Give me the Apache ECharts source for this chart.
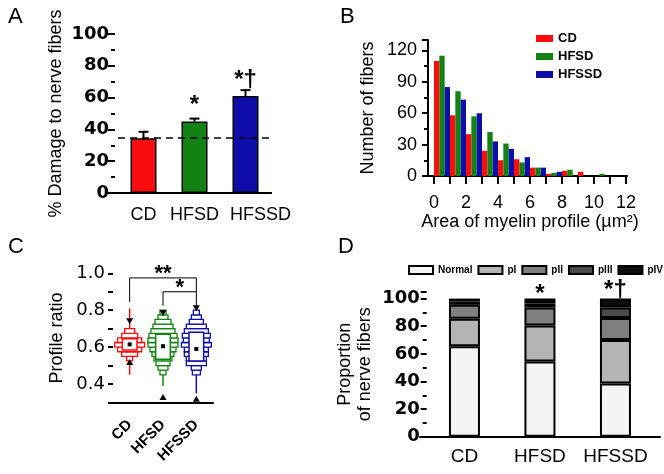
<!DOCTYPE html>
<html><head><meta charset="utf-8">
<script src="https://cdn.jsdelivr.net/npm/echarts@6/dist/echarts.min.js"></script>
<style>html,body{margin:0;padding:0;background:#fff}#c{width:664px;height:474px}</style>
</head><body><div id="c"></div>
<script>
// ---------- DATA ----------
const groups = ['CD', 'HFSD', 'HFSSD'];
// Panel A: % damage to nerve fibers
const damageMean = [34.5, 45, 61];
const damageUpper = [38.5, 46.8, 64.7];
const damageBaseline = 34.5;
const damageSigText = ['', '*', '*†'];
const damageSigY = [0, 55, 71];
// Panel B: histogram of myelin profile area (bins of 1 µm²)
const areaBins = ['0-1','1-2','2-3','3-4','4-5','5-6','6-7','7-8','8-9','9-10','10-11','11-12'];
const cdCounts    = [110, 58, 40, 24, 15, 16, 8, 2, 5, 4, 0, 0];
const hfsdCounts  = [115, 81, 57, 42, 31, 13, 8, 3, 6, 0, 2, 0];
const hfssdCounts = [ 85, 73, 60, 33, 26, 18, 8, 4, 0, 0, 0, 0];
// Panel C: profile ratio distributions
const ratioBinWidth = 0.025;
const ratioBinStart = [0.525, 0.45, 0.45];
const cdRatioBins    = [18, 48, 72, 90, 72, 48, 30];
const hfsdRatioBins  = [18, 30, 42, 54, 66, 78, 90, 90, 84, 72, 60, 48, 30, 18];
const hfssdRatioBins = [24, 30, 60, 60, 72, 72, 90, 78, 84, 72, 60, 42, 30, 18];
const ratioWhiskerLo = [0.45, 0.39, 0.35];
const ratioWhiskerHi = [0.81, 0.80, 0.80];
const ratioQ1 = [0.585, 0.535, 0.525];
const ratioQ3 = [0.645, 0.67, 0.68];
const ratioMean = [0.615, 0.605, 0.59];
const ratioP1 = [0.52, 0.33, 0.32];
const ratioP99 = [0.74, 0.785, 0.81];
// brackets: [from, to, top, dropFrom, dropTo]
const brackets = [[0, 2, 0.975, 0.845, 0.82], [1, 2, 0.90, 0.825, 0.90]];
const bracketText = ['**', '*'];
// Panel D: proportion of nerve fibers
const stageNames = ['Normal', 'pI', 'pII', 'pIII', 'pIV'];
const normalPct = [65.5, 54.5, 38.5];
const pIPct     = [20, 26, 31.5];
const pIIPct    = [10, 13, 16];
const pIIIPct   = [2.5, 3, 7.5];
const pIVPct    = [2, 3.5, 6.5];
const propSigText = ['', '*', '*†'];
const propSigY = [0, 103, 106];

// ---------- STYLE ----------
const F = 'Liberation Sans, Arial, sans-serif';
const FB = 'DejaVu Sans, sans-serif';
const groupColors = ['#fb0d0d', '#128312', '#0d0da8'];
const stageColors = ['#f4f4f4', '#b4b4b4', '#7f7f7f', '#4a4a4a', '#0d0d0d'];
const AX = {lineStyle: {color: '#000', width: 2}};

const chart = echarts.init(document.getElementById('c'));

function extAxis(gi) { return {type: 'value', gridIndex: gi, position: 'bottom', min: 0, max: 1, axisLine: AX, axisTick: {show: false}, axisLabel: {show: false}, splitLine: {show: false}}; }
function hiddenY(gi) { return {type: 'value', gridIndex: gi, min: 0, max: 1, show: false}; }

function textEl(x, y, t, size) {
  return {type: 'text', x: x, y: y, style: {text: t, fontSize: size, fontWeight: 'bold', fill: '#000', fontFamily: F, align: 'center', verticalAlign: 'middle'}};
}

const binsData = [cdRatioBins, hfsdRatioBins, hfssdRatioBins].map((arr, g) =>
  arr.map((w, i) => [g, ratioBinStart[g] + i * ratioBinWidth, ratioBinStart[g] + (i + 1) * ratioBinWidth, w]));

const series = [];
// A bars
series.push({
  type: 'bar', xAxisIndex: 0, yAxisIndex: 0, barWidth: 26,
  data: damageMean.map((v, i) => ({value: v, itemStyle: {color: groupColors[i]}})),
  itemStyle: {borderColor: '#000', borderWidth: 1.5},
  markLine: {silent: true, symbol: 'none', label: {show: false},
    lineStyle: {color: '#000', type: [7, 5], width: 1.5}, data: [{yAxis: damageBaseline}]}
});
// A error bars
series.push({
  type: 'custom', xAxisIndex: 0, yAxisIndex: 0, z: 3,
  data: damageMean.map((m, i) => [i, m, damageUpper[i]]),
  renderItem: function (p, api) {
    const a = api.coord([api.value(0), api.value(1)]);
    const b = api.coord([api.value(0), api.value(2)]);
    return {type: 'group', children: [
      {type: 'line', shape: {x1: a[0], y1: a[1], x2: b[0], y2: b[1]}, style: {stroke: '#000', lineWidth: 2}},
      {type: 'line', shape: {x1: b[0] - 5, y1: b[1], x2: b[0] + 5, y2: b[1]}, style: {stroke: '#000', lineWidth: 2}}
    ]};
  }
});
// A significance
series.push({
  type: 'custom', xAxisIndex: 0, yAxisIndex: 0, z: 4,
  data: damageSigText.map((t, i) => [i, damageSigY[i]]),
  renderItem: function (p, api) {
    const t = damageSigText[p.dataIndex];
    if (!t) return null;
    const c = api.coord([api.value(0), api.value(1)]);
    return textEl(c[0], c[1], t, 24);
  }
});
// B histogram
[cdCounts, hfsdCounts, hfssdCounts].forEach((arr, i) => {
  series.push({type: 'bar', name: groups[i], xAxisIndex: 1, yAxisIndex: 1, data: arr,
    barGap: '0%', barCategoryGap: '0%', itemStyle: {color: groupColors[i]}});
});
// C whiskers
series.push({
  type: 'custom', xAxisIndex: 3, yAxisIndex: 2,
  data: groups.map((g, i) => [i, ratioWhiskerLo[i], ratioWhiskerHi[i]]),
  renderItem: function (p, api) {
    const a = api.coord([api.value(0), api.value(1)]);
    const b = api.coord([api.value(0), api.value(2)]);
    return {type: 'line', shape: {x1: a[0], y1: a[1], x2: b[0], y2: b[1]}, style: {stroke: groupColors[p.dataIndex], lineWidth: 1.5}};
  }
});
// C histogram boxes
binsData.forEach((d, g) => {
  series.push({
    type: 'custom', xAxisIndex: 3, yAxisIndex: 2, data: d,
    renderItem: function (p, api) {
      const bw = api.size([1, 0])[0];
      const top = api.coord([api.value(0), api.value(2)]);
      const bot = api.coord([api.value(0), api.value(1)]);
      const half = bw * api.value(3) / 200;
      return {type: 'rect', shape: {x: top[0] - half, y: top[1], width: 2 * half, height: bot[1] - top[1]},
        style: {fill: '#fff', stroke: groupColors[g], lineWidth: 1.3}};
    }
  });
});
// C IQR box, mean, percentiles
series.push({
  type: 'custom', xAxisIndex: 3, yAxisIndex: 2,
  data: groups.map((g, i) => [i, ratioQ1[i], ratioQ3[i], ratioMean[i], ratioP1[i], ratioP99[i]]),
  renderItem: function (p, api) {
    const x = api.value(0);
    const bw = api.size([1, 0])[0];
    const half = bw * 0.22;
    const q3 = api.coord([x, api.value(2)]), q1 = api.coord([x, api.value(1)]);
    const m = api.coord([x, api.value(3)]);
    const lo = api.coord([x, api.value(4)]), hi = api.coord([x, api.value(5)]);
    const col = groupColors[p.dataIndex];
    return {type: 'group', children: [
      {type: 'rect', shape: {x: q3[0] - half, y: q3[1], width: 2 * half, height: q1[1] - q3[1]}, style: {fill: '#fff', stroke: col, lineWidth: 1.5}},
      {type: 'rect', shape: {x: m[0] - 2, y: m[1] - 2, width: 4, height: 4}, style: {fill: '#000'}},
      {type: 'polygon', shape: {points: [[hi[0] - 3.5, hi[1] - 3], [hi[0] + 3.5, hi[1] - 3], [hi[0], hi[1] + 3]]}, style: {fill: '#000'}},
      {type: 'polygon', shape: {points: [[lo[0] - 3.5, lo[1] + 3], [lo[0] + 3.5, lo[1] + 3], [lo[0], lo[1] - 3]]}, style: {fill: '#000'}}
    ]};
  }
});
// C brackets
series.push({
  type: 'custom', xAxisIndex: 3, yAxisIndex: 2,
  data: brackets,
  renderItem: function (p, api) {
    const a1 = api.coord([api.value(0), api.value(3)]);
    const a2 = api.coord([api.value(0), api.value(2)]);
    const b2 = api.coord([api.value(1), api.value(2)]);
    const b1 = api.coord([api.value(1), api.value(4)]);
    const mx = (a2[0] + b2[0]) / 2;
    const tx = p.dataIndex === 0 ? api.coord([1, 0.5])[0] : mx;
    return {type: 'group', children: [
      {type: 'polyline', shape: {points: [a1, a2, b2, b1]}, style: {stroke: '#000', lineWidth: 1, fill: null}},
      textEl(tx, a2[1] - 4, bracketText[p.dataIndex], 22)
    ]};
  }
});
// D stacked bars
[normalPct, pIPct, pIIPct, pIIIPct, pIVPct].forEach((arr, i) => {
  series.push({type: 'bar', name: stageNames[i], stack: 'prop', xAxisIndex: 4, yAxisIndex: 3, data: arr, barWidth: 31,
    itemStyle: {color: stageColors[i], borderColor: '#000', borderWidth: 2}});
});
// D significance
series.push({
  type: 'custom', xAxisIndex: 4, yAxisIndex: 3, z: 4,
  data: propSigText.map((t, i) => [i, propSigY[i]]),
  renderItem: function (p, api) {
    const t = propSigText[p.dataIndex];
    if (!t) return null;
    const c = api.coord([api.value(0), api.value(1)]);
    return textEl(c[0], c[1], t, 24);
  }
});

const option = {
  animation: false,
  backgroundColor: '#fff',
  textStyle: {fontFamily: F, color: '#000'},
  grid: [
    {left: 118, top: 34, width: 153, height: 159},
    {left: 434, top: 40, width: 192, height: 136},
    {left: 113, top: 273.3, width: 100, height: 129.2},
    {left: 426.7, top: 291.7, width: 226.5, height: 145},
    {left: 107, top: 34, width: 164, height: 159},
    {left: 428, top: 40, width: 199, height: 136},
    {left: 420, top: 291.7, width: 240, height: 145}
  ],
  legend: [
    {data: groups, orient: 'vertical', left: 531, top: 27, itemWidth: 17, itemHeight: 7, itemGap: 5, icon: 'rect',
      textStyle: {fontFamily: F, fontWeight: 'bold', fontSize: 13, color: '#000'}, selectedMode: false},
    {data: stageNames, orient: 'horizontal', left: 408, top: 265, width: 256, itemWidth: 24, itemHeight: 8, itemGap: 5, icon: 'rect', padding: 0,
      textStyle: {fontFamily: F, fontWeight: 'bold', fontSize: 10, color: '#000'}, selectedMode: false}
  ],
  xAxis: [
    {type: 'category', gridIndex: 0, data: groups, axisLine: AX, axisTick: {length: 7, lineStyle: {width: 2}},
      axisLabel: {interval: 0, fontSize: 18, color: '#000', margin: 13, fontFamily: F,
        formatter: (v, i) => (i === 2 ? '{s|' + v + '}' : v),
        rich: {s: {fontSize: 18, fontFamily: F, color: '#000', padding: [0, 0, 0, 30]}}}},
    {type: 'category', gridIndex: 1, position: 'top', data: areaBins, show: false},
    {type: 'value', gridIndex: 1, position: 'bottom', min: 0, max: 12, interval: 2, axisLine: AX,
      axisTick: {length: 8, lineStyle: {width: 2}}, minorTick: {show: true, splitNumber: 2, length: 8, lineStyle: {width: 2, color: '#000'}},
      splitLine: {show: false}, axisLabel: {fontSize: 18, color: '#000', margin: 18, fontFamily: F},
      name: 'Area of myelin profile (µm²)', nameLocation: 'middle', nameGap: 36, nameTextStyle: {fontSize: 18, color: '#000', fontFamily: F}},
    {type: 'category', gridIndex: 2, data: groups, axisLine: AX, axisTick: {alignWithLabel: true, length: 7, lineStyle: {width: 2}},
      axisLabel: {interval: 0, fontSize: 15, fontWeight: 'bold', rotate: 45, color: '#000', margin: 20, fontFamily: F}},
    {type: 'category', gridIndex: 3, data: groups, axisLine: AX, axisTick: {show: false},
      axisLabel: {interval: 0, fontSize: 19, color: '#000', margin: 11, fontFamily: F}},
    extAxis(4), extAxis(5), extAxis(6)
  ],
  yAxis: [
    {type: 'value', gridIndex: 0, min: 0, max: 100, interval: 20, offset: 3, axisLine: AX,
      axisTick: {show: true, length: 7, lineStyle: {width: 2}}, minorTick: {show: true, splitNumber: 2, length: 4, lineStyle: {width: 2, color: '#000'}},
      splitLine: {show: false}, axisLabel: {fontSize: 18, fontWeight: 'bold', color: '#000', margin: 6, fontFamily: FB},
      name: '% Damage to nerve fibers', nameLocation: 'middle', nameGap: 50, nameTextStyle: {fontSize: 18, color: '#000', fontFamily: F}},
    {type: 'value', gridIndex: 1, min: 0, max: 130, interval: 30, offset: 6, axisLine: {onZero: false, lineStyle: {color: '#000', width: 2}},
      axisTick: {show: true, length: 6, lineStyle: {width: 2}}, minorTick: {show: true, splitNumber: 2, length: 4, lineStyle: {width: 2, color: '#000'}},
      splitLine: {show: false}, axisLabel: {fontSize: 18, color: '#000', margin: 11, fontFamily: F, formatter: v => (v % 30 === 0 ? v : '')},
      name: 'Number of fibers', nameLocation: 'middle', nameGap: 51, nameTextStyle: {fontSize: 18, color: '#000', fontFamily: F}},
    {type: 'value', gridIndex: 2, min: 0.3, max: 1.0, interval: 0.1, axisLine: AX,
      axisTick: {show: true, length: 5, lineStyle: {width: 2}}, splitLine: {show: false},
      axisLabel: {fontSize: 18, color: '#000', margin: 8, fontFamily: FB,
        formatter: v => (Math.round(v * 10) % 2 === 0 ? v.toFixed(1) : '')},
      name: 'Profile ratio', nameLocation: 'middle', nameGap: 47, nameTextStyle: {fontSize: 18, color: '#000', fontFamily: F}},
    {type: 'value', gridIndex: 3, min: 0, max: 105, interval: 20, axisLine: AX,
      axisTick: {show: true, length: 6, lineStyle: {width: 2}}, minorTick: {show: true, splitNumber: 2, length: 4, lineStyle: {width: 2, color: '#000'}},
      splitLine: {show: false}, axisLabel: {fontSize: 18, fontWeight: 'bold', color: '#000', margin: 7, fontFamily: FB, formatter: v => (v % 20 === 0 ? v : '')},
      name: 'Proportion\nof nerve fibers', nameLocation: 'middle', nameGap: 52, nameTextStyle: {fontSize: 18, lineHeight: 20, color: '#000', fontFamily: F}},
    hiddenY(4), hiddenY(5), hiddenY(6)
  ],
  graphic: [
    {type: 'text', left: 8, top: 6, style: {text: 'A', fontSize: 22, fontFamily: F, fill: '#000'}},
    {type: 'text', left: 340, top: 6, style: {text: 'B', fontSize: 22, fontFamily: F, fill: '#000'}},
    {type: 'text', left: 8, top: 236, style: {text: 'C', fontSize: 22, fontFamily: F, fill: '#000'}},
    {type: 'text', left: 338, top: 236, style: {text: 'D', fontSize: 22, fontFamily: F, fill: '#000'}}
  ],
  series: series
};
chart.setOption(option);
</script></body></html>
